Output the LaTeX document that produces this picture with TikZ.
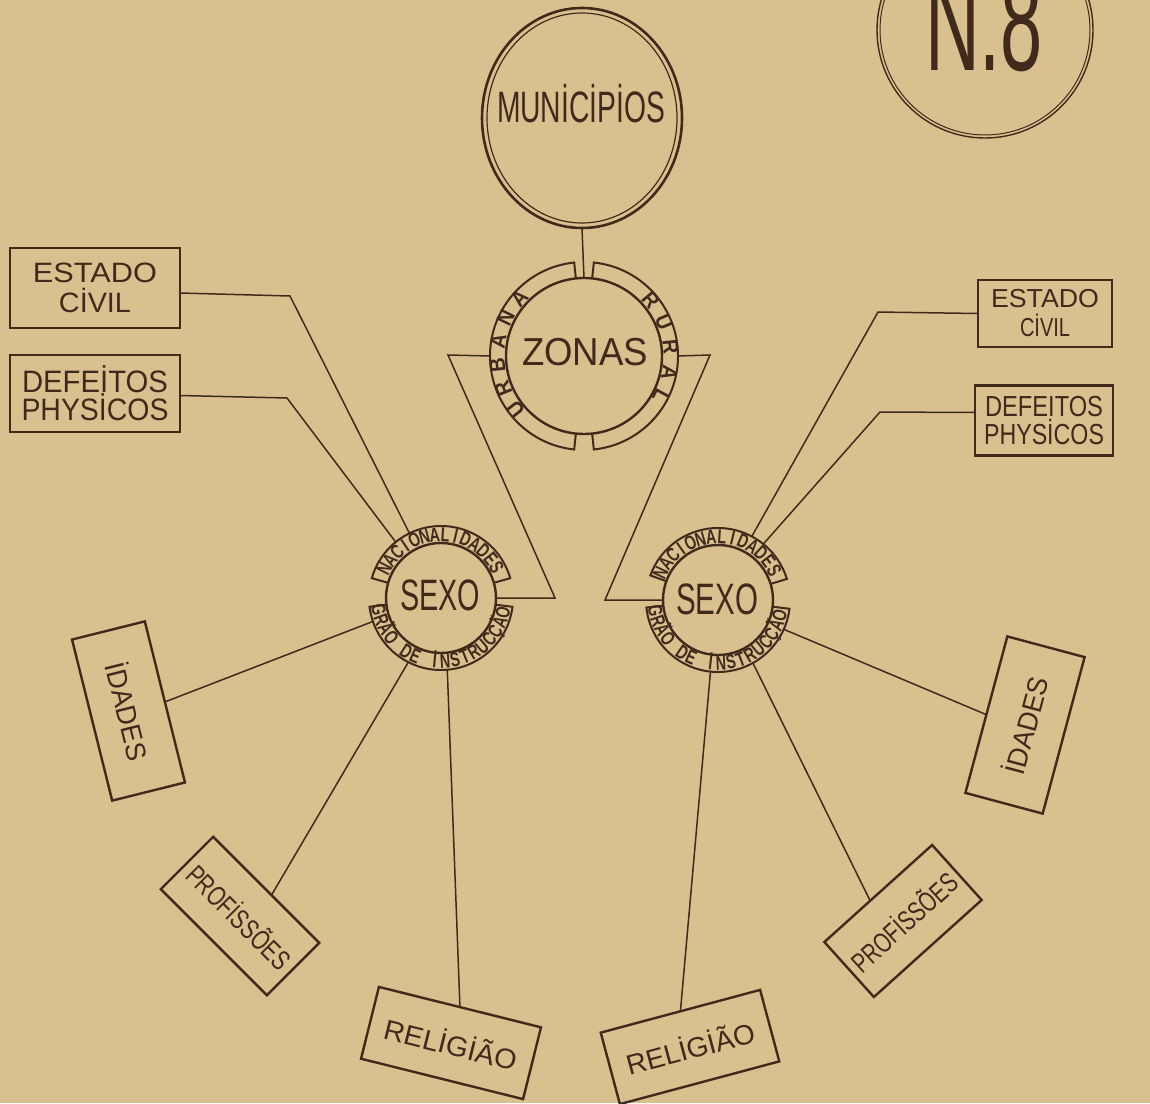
\documentclass[tikz,border=0pt]{standalone}
\usepackage{fontspec}
\setmainfont{Liberation Sans}
\usepackage{graphicx}
\usetikzlibrary{calc,shapes.geometric}
\definecolor{bgc}{RGB}{217,193,143}
\definecolor{inkc}{RGB}{64,42,28}
\newcommand\fw[2]{\resizebox{#1}{\height}{#2}}
\def\bandfont{\fontsize{10}{10}\selectfont}
\def\bandscale{0.8}
\newcommand\arctext[7]{%
  \foreach \ch [count=\i from 0] in {#7}{%
    \pgfmathsetmacro\ang{#3+\i*(#4)}%
    \pgfmathsetmacro\rot{\ang+(#5)}%
    \node[bandtxt, rotate=\rot] (#6\i) at ($(#1)+(\ang:#2)$) {\scalebox{\bandscale}[1]{\ch}};
  }}
\newcommand\bandarc[5]{%
  \draw[bandline] ($(#1)+(#4:#2)$) -- ($(#1)+(#4:#3)$) arc[start angle=#4, end angle=#5, radius=#3] -- ($(#1)+(#5:#2)$);}
\begin{document}
\begin{tikzpicture}[x=0.5pt,y=0.5pt,
  conn/.style={draw=inkc, line width=0.75pt},
  bandline/.style={draw=inkc, line width=1pt},
  boxnode/.style={draw=inkc, line width=1.2pt, inner sep=0pt, outer sep=0pt, text=inkc, align=center},
  ringnode/.style={circle, draw=inkc, line width=1.2pt, inner sep=0pt, outer sep=0pt},
  ghost/.style={circle, inner sep=0pt, outer sep=0pt, draw=none},
  bandtxt/.style={text=inkc, inner sep=0pt, anchor=base, font=\bandfont\bfseries},
  bigtxt/.style={anchor=base, text=inkc, inner sep=0pt}]
\useasboundingbox (0,0) rectangle (1150,-1103);
\clip (0,0) rectangle (1150,-1103);
\fill[bgc] (0,0) rectangle (1150,-1103);

% N.8
\coordinate (cn) at (985,-30);
\node[circle, draw=inkc, line width=0.7pt, minimum size=108pt, inner sep=0pt] (n8c) at (cn) {};
\draw[inkc, line width=0.5pt] (cn) circle[radius=105];
\node[bigtxt, font=\fontsize{70}{70}\selectfont] (n8) at (984,-70) {\fw{59pt}{N.8}};

% Municipios
\coordinate (cm) at (582,-118);
\node[ellipse, draw=inkc, line width=1.3pt, minimum width=100pt, minimum height=110pt, inner sep=0pt, outer sep=0pt] (mun) at (cm) {};
\draw[inkc, line width=0.6pt] (cm) ellipse[x radius=95, y radius=105];
\node[bigtxt, font=\fontsize{22}{22}\selectfont] (munt) at (581,-122) {\fw{84pt}{MUNİCİPİOS}};

% Zonas
\coordinate (cz) at (584,-356);
\node[ringnode, minimum size=78pt] (zon) at (cz) {};
\node[ghost, minimum size=94pt] (zonO) at (cz) {};
\node[bigtxt, font=\fontsize{19.5}{20}\selectfont] (zont) at (585,-365) {\fw{63pt}{ZONAS}};
\bandarc{cz}{78}{94}{96}{264}
\bandarc{cz}{78}{94}{84}{-84}
\def\bandfont{\fontsize{11}{11}\selectfont}
\def\bandscale{0.9}
\arctext{cz}{79.5}{218}{-16}{-90}{zu}{U,R,B,A,N,A}
\arctext{cz}{79.5}{40}{-17}{-90}{zr}{R,U,R,A,L}

% Sexo left
\def\bandfont{\fontsize{10}{10}\selectfont}
\def\bandscale{0.72}
\coordinate (cls) at (441,-598);
\node[ringnode, minimum size=55pt] (ls) at (cls) {};
\node[ghost, minimum size=72pt] (lsO) at (cls) {};
\node[bigtxt, font=\fontsize{22}{22}\selectfont] (lst) at (440,-610) {\fw{40pt}{SEXO}};
\bandarc{cls}{55}{72}{16}{164}
\bandarc{cls}{55}{72}{187}{353}
\arctext{cls}{56.6}{153}{-9.54}{-90}{lsn}{N,A,C,I,O,N,A,L,I,D,A,D,E,S}
\arctext{cls}{70.4}{191}{9.18}{90}{lsg}{G,R,Ã,O,{},D,E,{},İ,N,S,T,R,U,C,Ç,Ã,O}

% Sexo right
\coordinate (crs) at (718,-600);
\node[ringnode, minimum size=55pt] (rs) at (crs) {};
\node[ghost, minimum size=72pt] (rsO) at (crs) {};
\node[bigtxt, font=\fontsize{22}{22}\selectfont] (rst) at (717,-614) {\fw{41pt}{SEXO}};
\bandarc{crs}{55}{72}{17}{160}
\bandarc{crs}{55}{72}{186}{353}
\arctext{crs}{56.6}{155}{-9.8}{-90}{rsn}{N,A,C,I,O,N,A,L,I,D,A,D,E,S}
\arctext{crs}{70.4}{190}{9.18}{90}{rsg}{G,R,Ã,O,{},D,E,{},İ,N,S,T,R,U,C,Ç,Ã,O}

% left boxes
\node[boxnode, minimum width=85pt, minimum height=40pt, font=\fontsize{14}{15}\selectfont] (lec) at (95,-288) {\fw{62pt}{ESTADO}\\\fw{36pt}{CİVIL}};
\node[boxnode, minimum width=85pt, minimum height=38.5pt, font=\fontsize{15.5}{14}\selectfont] (ldp) at (95,-393.5) {\fw{73pt}{DEFEİTOS}\\\fw{73.5pt}{PHYSİCOS}};
% right boxes
\node[boxnode, minimum width=67pt, minimum height=33.5pt, font=\fontsize{13}{14.5}\selectfont] (rec) at (1045,-313.5) {\fw{54pt}{ESTADO}\\\fw{25pt}{CİVIL}};
\node[boxnode, minimum width=69pt, minimum height=35pt, font=\fontsize{14.5}{14}\selectfont] (rdp) at (1044,-420.5) {\fw{59pt}{DEFEITOS}\\\fw{60pt}{PHYSİCOS}};

% rotated boxes
\node[boxnode, rotate=-76, minimum width=83pt, minimum height=37.5pt, font=\fontsize{14}{14}\selectfont] (lid) at (128.5,-711) {\fw{50pt}{İDADES}};
\node[boxnode, rotate=-45, minimum width=75pt, minimum height=37pt, font=\fontsize{14}{14}\selectfont] (lpr) at (240,-916) {\fw{67pt}{PROFİSSÕES}};
\node[boxnode, rotate=-14, minimum width=83.5pt, minimum height=37pt, font=\fontsize{14}{14}\selectfont] (lre) at (451,-1043) {\fw{68pt}{RELİGİÃO}};
\node[boxnode, rotate=15, minimum width=82.5pt, minimum height=37pt, font=\fontsize{14}{14}\selectfont] (rre) at (690,-1047) {\fw{66pt}{RELİGİÃO}};
\node[boxnode, rotate=42, minimum width=72.5pt, minimum height=37pt, font=\fontsize{14}{14}\selectfont] (rpr) at (903,-921) {\fw{66pt}{PROFİSSÕES}};
\node[boxnode, rotate=75, minimum width=81pt, minimum height=40pt, font=\fontsize{14}{14}\selectfont] (rid) at (1025,-725) {\fw{50pt}{İDADES}};

% connectors
\draw[conn] (mun.south) -- (zon.north);
\coordinate (zl) at (448,-355);
\coordinate (zl2) at (555,-598);
\draw[conn] (zonO.west) -- (zl) -- (zl2) -- (ls.east);
\coordinate (zr) at (710,-355);
\coordinate (zr2) at (605,-600);
\draw[conn] (zonO.east) -- (zr) -- (zr2) -- (rs.west);

\coordinate (lec1) at (290,-296);
\draw[conn] ([yshift=-2.5pt]lec.east) -- (lec1) -- (lsO.116);
\coordinate (ldp1) at (287,-398);
\draw[conn] ([yshift=-1pt]ldp.east) -- (ldp1) -- (lsO.129);
\coordinate (rec1) at (878,-312);
\draw[conn] (rec.west) -- (rec1) -- (rsO.62);
\coordinate (rdp1) at (880,-412);
\draw[conn] ([yshift=4pt]rdp.west) -- (rdp1) -- (rsO.51);

\draw[conn] (lsO.199) -- (lid.north);
\draw[conn] (lsO.243) -- ($(lpr.north)!0.1!(lpr.north east)$);
\draw[conn] (lsO.275) -- (lre.north);
\draw[conn] (rsO.264) -- (rre.north);
\draw[conn] (rsO.299) -- ($(rpr.north)!0.15!(rpr.north west)$);
\draw[conn] (rsO.336) -- (rid.north);
\end{tikzpicture}
\end{document}
